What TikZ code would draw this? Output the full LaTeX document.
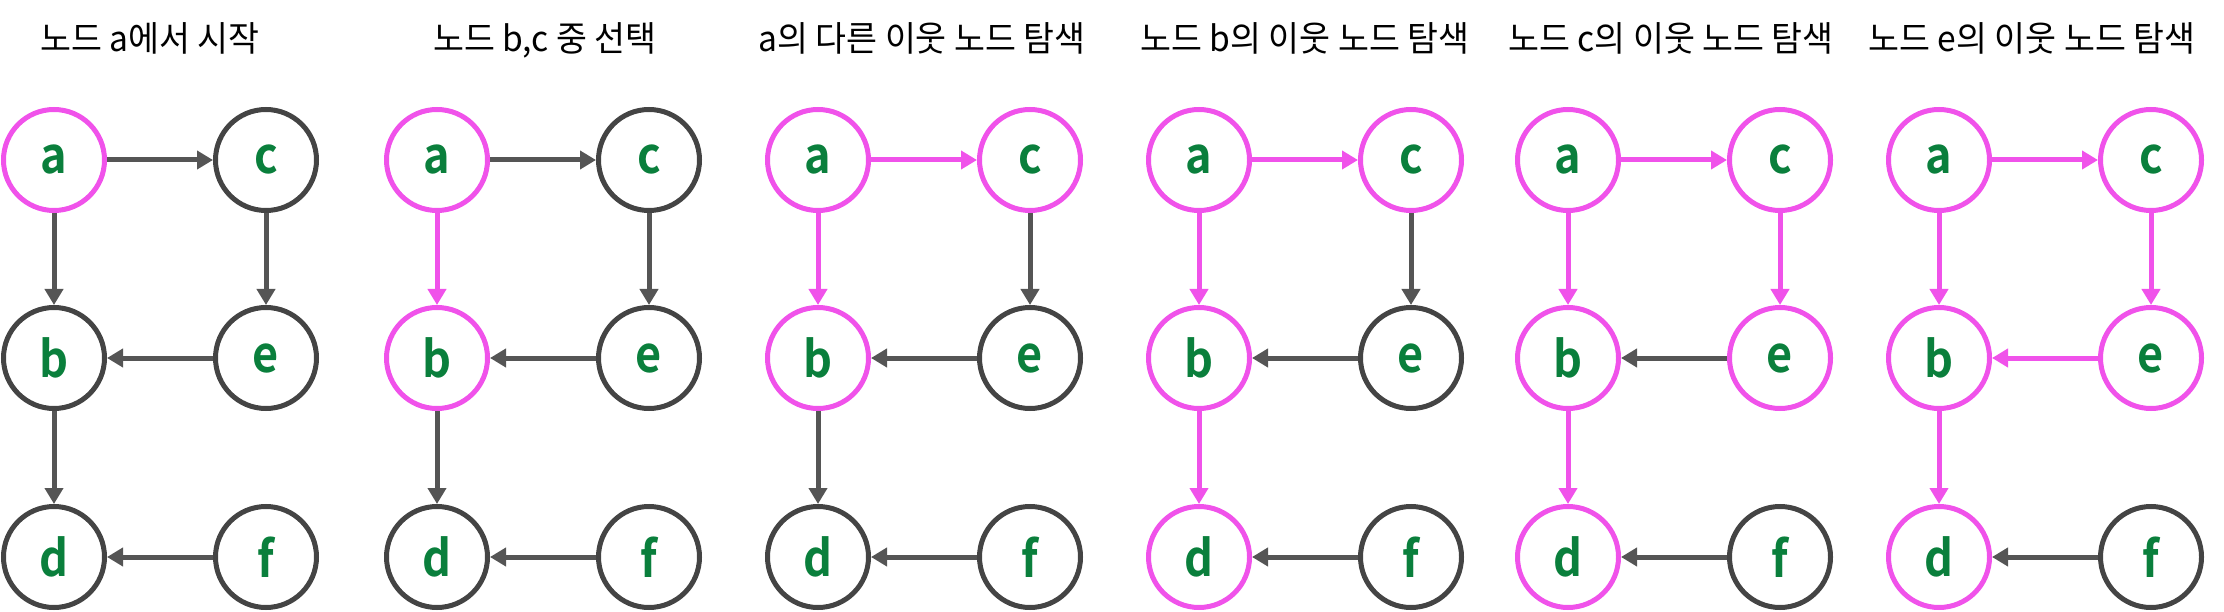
\documentclass[tikz,border=0pt]{standalone}
\usepackage{fontspec}
\setmainfont{Noto Sans CJK KR}[FakeStretch=0.96]
\newfontfamily\lblfont{Noto Sans CJK KR Bold}[FakeStretch=0.9]
\usetikzlibrary{arrows.meta}
\definecolor{mag}{HTML}{F052EA}
\definecolor{dk}{HTML}{444444}
\definecolor{arr}{HTML}{555555}
\definecolor{grn}{HTML}{0A7F3C}
\tikzset{
  nd/.style={circle, draw=dk, line width=5pt, minimum size=101pt, inner sep=0pt,
    font=\lblfont\fontsize{50}{50}\selectfont, text=grn},
  vis/.style={draw=mag},
  ed/.style={draw=arr, line width=5pt, -{Triangle[length=16pt,width=18pt]}},
  ttl/.style={anchor=base, font=\fontsize{35}{40}\selectfont, text=black},
  sa/.style={}, sb/.style={}, sc/.style={}, sd/.style={}, se/.style={}, sf/.style={},
  eab/.style={}, eac/.style={}, ece/.style={}, eeb/.style={}, ebd/.style={}, efd/.style={}
}
\newcommand\mkpanel[4]{%
  \node[ttl] (#1t) at (#3,52) {#4};
  \node[nd,sa] (#1a) at (#2,160) {a};
  \node[nd,sc] (#1c) at (#2+212,160) {c};
  \node[nd,sb] (#1b) at (#2,358) {b};
  \node[nd,se] (#1e) at (#2+212,358) {e};
  \node[nd,sd] (#1d) at (#2,557) {d};
  \node[nd,sf] (#1f) at (#2+212,557) {f};
  \draw[ed,eac] (#1a) -- (#1c);
  \draw[ed,eab] (#1a) -- (#1b);
  \draw[ed,ece] (#1c) -- (#1e);
  \draw[ed,eeb] (#1e) -- (#1b);
  \draw[ed,ebd] (#1b) -- (#1d);
  \draw[ed,efd] (#1f) -- (#1d);
}
\begin{document}
\begin{tikzpicture}[x=1pt,y=-1pt]
\useasboundingbox (0,0) rectangle (2224,612);
% panel 1
\tikzset{sa/.style={vis}}
\mkpanel{p}{54}{150}{노드 a에서 시작}
% panel 2
\tikzset{sb/.style={vis}, eab/.style={vis}}
\mkpanel{q}{437}{545}{노드 b,c 중 선택}
% panel 3
\tikzset{sc/.style={vis}, eac/.style={vis}}
\mkpanel{r}{818}{922}{a의 다른 이웃 노드 탐색}
% panel 4
\tikzset{sd/.style={vis}, ebd/.style={vis}}
\mkpanel{s}{1199}{1305}{노드 b의 이웃 노드 탐색}
% panel 5
\tikzset{se/.style={vis}, ece/.style={vis}}
\mkpanel{u}{1568}{1671}{노드 c의 이웃 노드 탐색}
% panel 6
\tikzset{eeb/.style={vis}}
\mkpanel{w}{1939}{2032}{노드 e의 이웃 노드 탐색}
\end{tikzpicture}
\end{document}
